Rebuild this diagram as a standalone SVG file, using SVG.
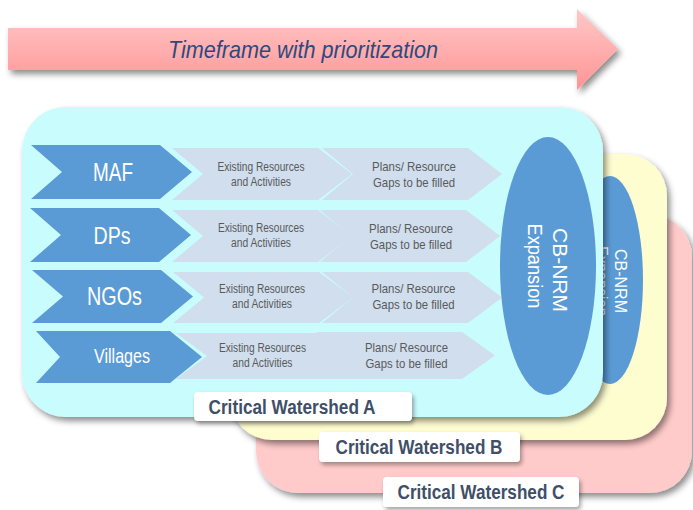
<svg xmlns="http://www.w3.org/2000/svg" width="693" height="510" viewBox="0 0 693 510">
<defs>
<linearGradient id="arrowGrad" x1="0" y1="0" x2="0" y2="1">
<stop offset="0" stop-color="#ffc8c8"/>
<stop offset="1" stop-color="#ff9494"/>
</linearGradient>
<filter id="shadow" x="-10%" y="-10%" width="125%" height="130%">
<feDropShadow dx="3" dy="4" stdDeviation="3" flood-color="#000" flood-opacity="0.45"/>
</filter>
<filter id="shadowS" x="-10%" y="-20%" width="125%" height="150%">
<feDropShadow dx="2" dy="3" stdDeviation="2" flood-color="#000" flood-opacity="0.35"/>
</filter>
</defs>
<style>
.panelA{fill:#c9fcfd}
.panelB{fill:#fefdd0}
.panelC{fill:#ffcaca}
.dark{fill:#5b9bd5}
.light{fill:#d0deee}
.ell{fill:#5b9bd5}
.lbl{fill:#ffffff}
.dt{font-family:"Liberation Sans",Arial,sans-serif;fill:#ffffff;text-anchor:middle}
.st{font-family:"Liberation Sans",Arial,sans-serif;fill:#5a5a5a;text-anchor:middle}
.lt{font-family:"Liberation Sans",Arial,sans-serif;font-weight:bold;fill:#3f4f68;text-anchor:middle;font-size:20px}
.title{font-family:"Liberation Sans",Arial,sans-serif;font-style:italic;fill:#2c4a7e;text-anchor:middle;font-size:24px}
</style>

<g id="timeframe-arrow">
<path d="M8,28 L577,28 L577,9 L618,49 L577,90 L577,70 L8,70 Z" fill="url(#arrowGrad)" filter="url(#shadow)"/>
<text class="title" x="303" y="58" textLength="270" lengthAdjust="spacingAndGlyphs">Timeframe with prioritization</text>
</g>

<g id="watershed-c">
<rect class="panelC" x="256" y="215" width="436" height="278" rx="42" filter="url(#shadow)"/>
</g>

<g id="watershed-b">
<rect class="panelB" x="230" y="154" width="437" height="286" rx="42" filter="url(#shadow)"/>
<ellipse class="ell" cx="610" cy="280" rx="33" ry="104"/>
<text class="dt" font-size="16" transform="translate(615,281) rotate(90)" textLength="64" lengthAdjust="spacingAndGlyphs">CB-NRM</text>
<text class="dt" font-size="16" transform="translate(596,281) rotate(90)" textLength="70" lengthAdjust="spacingAndGlyphs">Expansion</text>
</g>

<g id="watershed-a">
<rect class="panelA" x="22" y="107" width="581" height="310" rx="44" filter="url(#shadow)"/>
</g>

<g id="row-maf">
<polygon class="dark" points="31,145 160,145 192,172 160,199 31,199 62,172"/>
<text class="dt" font-size="26" x="113" y="181" textLength="40" lengthAdjust="spacingAndGlyphs">MAF</text>
<polygon class="light" points="172,148 318,148 352,174 318,200 172,200 203,174"/>
<text class="st" font-size="12.5" x="261" y="171" textLength="87" lengthAdjust="spacingAndGlyphs">Existing Resources</text>
<text class="st" font-size="12.5" x="261" y="186" textLength="60" lengthAdjust="spacingAndGlyphs">and Activities</text>
<polygon class="light" points="322,148 468,148 502,174 468,200 322,200 353,174"/>
<text class="st" font-size="13.5" x="414" y="171" textLength="84" lengthAdjust="spacingAndGlyphs">Plans/ Resource</text>
<text class="st" font-size="13.5" x="414" y="187" textLength="82" lengthAdjust="spacingAndGlyphs">Gaps to be filled</text>
</g>

<g id="row-dps">
<polygon class="dark" points="30,208 159,208 191,235 159,262 30,262 61,235"/>
<text class="dt" font-size="24" x="112" y="244" textLength="37" lengthAdjust="spacingAndGlyphs">DPs</text>
<polygon class="light" points="172,210 318,210 352,236 318,262 172,262 203,236"/>
<text class="st" font-size="12.5" x="261" y="232" textLength="86" lengthAdjust="spacingAndGlyphs">Existing Resources</text>
<text class="st" font-size="12.5" x="261" y="247" textLength="60" lengthAdjust="spacingAndGlyphs">and Activities</text>
<polygon class="light" points="320,210 466,210 500,236 466,262 320,262 351,236"/>
<text class="st" font-size="13.5" x="411" y="233" textLength="84" lengthAdjust="spacingAndGlyphs">Plans/ Resource</text>
<text class="st" font-size="13.5" x="411" y="249" textLength="82" lengthAdjust="spacingAndGlyphs">Gaps to be filled</text>
</g>

<g id="row-ngos">
<polygon class="dark" points="32,270 161,270 193,296.5 161,323 32,323 63,296.5"/>
<text class="dt" font-size="26" x="114.5" y="305" textLength="55" lengthAdjust="spacingAndGlyphs">NGOs</text>
<polygon class="light" points="173,272 319,272 353,297.5 319,323 173,323 204,297.5"/>
<text class="st" font-size="12.5" x="262" y="293" textLength="86" lengthAdjust="spacingAndGlyphs">Existing Resources</text>
<text class="st" font-size="12.5" x="262" y="308" textLength="60" lengthAdjust="spacingAndGlyphs">and Activities</text>
<polygon class="light" points="322,272 468,272 502,297.5 468,323 322,323 353,297.5"/>
<text class="st" font-size="13.5" x="413.5" y="293" textLength="84" lengthAdjust="spacingAndGlyphs">Plans/ Resource</text>
<text class="st" font-size="13.5" x="413.5" y="309" textLength="82" lengthAdjust="spacingAndGlyphs">Gaps to be filled</text>
</g>

<g id="row-villages">
<polygon class="dark" points="36,331 170,331 202,357 170,383 36,383 60,357"/>
<text class="dt" font-size="21" x="122" y="363" textLength="56" lengthAdjust="spacingAndGlyphs">Villages</text>
<polygon class="light" points="176,333 318,333 350,356 318,379 176,379 207,356"/>
<text class="st" font-size="12.5" x="262.5" y="352" textLength="87" lengthAdjust="spacingAndGlyphs">Existing Resources</text>
<text class="st" font-size="12.5" x="262.5" y="367" textLength="60" lengthAdjust="spacingAndGlyphs">and Activities</text>
<polygon class="light" points="316,332 462,332 495,355.5 462,379 316,379 347,355.5"/>
<text class="st" font-size="13.5" x="406.5" y="352" textLength="83" lengthAdjust="spacingAndGlyphs">Plans/ Resource</text>
<text class="st" font-size="13.5" x="406.5" y="368" textLength="82" lengthAdjust="spacingAndGlyphs">Gaps to be filled</text>
</g>

<g id="cbnrm-a">
<ellipse class="ell" cx="548" cy="266" rx="48" ry="129"/>
<text class="dt" font-size="21" transform="translate(553,270) rotate(90)" textLength="84" lengthAdjust="spacingAndGlyphs">CB-NRM</text>
<text class="dt" font-size="21" transform="translate(528,266) rotate(90)" textLength="85" lengthAdjust="spacingAndGlyphs">Expansion</text>
</g>

<g id="label-a">
<rect class="lbl" x="194" y="392" width="218" height="29" rx="4" filter="url(#shadowS)"/>
<text class="lt" x="292" y="414" textLength="167" lengthAdjust="spacingAndGlyphs">Critical Watershed A</text>
</g>
<g id="label-b">
<rect class="lbl" x="319" y="432" width="201" height="30" rx="4" filter="url(#shadowS)"/>
<text class="lt" x="419" y="454" textLength="167" lengthAdjust="spacingAndGlyphs">Critical Watershed B</text>
</g>
<g id="label-c">
<rect class="lbl" x="383" y="477" width="196" height="30" rx="4" filter="url(#shadowS)"/>
<text class="lt" x="481" y="499" textLength="167" lengthAdjust="spacingAndGlyphs">Critical Watershed C</text>
</g>
</svg>
